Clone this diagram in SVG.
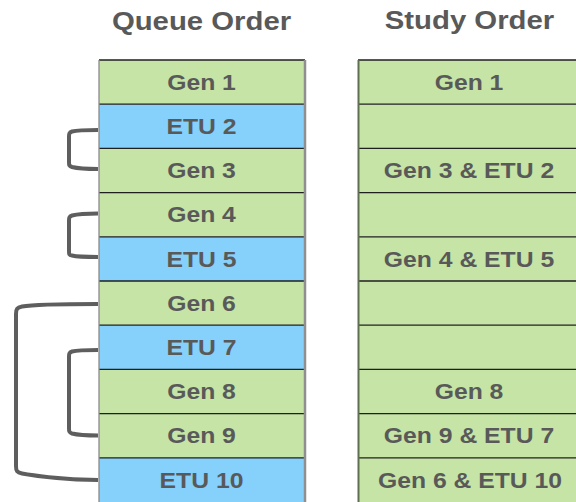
<svg xmlns="http://www.w3.org/2000/svg" width="576" height="502" viewBox="0 0 576 502">
<style>
.t{font-family:"Liberation Sans",Arial,sans-serif;font-weight:bold;font-size:21.5px;fill:#595959;text-anchor:middle}
.h{font-family:"Liberation Sans",Arial,sans-serif;font-weight:bold;font-size:25.5px;fill:#595959;text-anchor:middle}
.g{fill:#C5E4A6}
.b{fill:#86D0FC}
.sep{stroke:#1f1f1f;stroke-width:1.3}
.con{fill:none;stroke:#5E5E5E;stroke-width:4;stroke-linecap:butt;stroke-linejoin:round}
</style>
<rect width="576" height="502" fill="#ffffff"/>
<g id="titles">
<text class="h" transform="translate(201.5,30) scale(1.15 1)">Queue Order</text>
<text class="h" transform="translate(469.5,29) scale(1.15 1)">Study Order</text>
</g>
<g id="queue">
<g id="q1"><rect class="g" x="99" y="60" width="205" height="44.2"/><text class="t" transform="translate(201.5,89.7) scale(1.15 1)">Gen 1</text></g>
<g id="q2"><rect class="b" x="99" y="104.2" width="205" height="44.2"/><text class="t" transform="translate(201.5,133.9) scale(1.15 1)">ETU 2</text></g>
<g id="q3"><rect class="g" x="99" y="148.4" width="205" height="44.2"/><text class="t" transform="translate(201.5,178.1) scale(1.15 1)">Gen 3</text></g>
<g id="q4"><rect class="g" x="99" y="192.6" width="205" height="44.2"/><text class="t" transform="translate(201.5,222.3) scale(1.15 1)">Gen 4</text></g>
<g id="q5"><rect class="b" x="99" y="236.8" width="205" height="44.2"/><text class="t" transform="translate(201.5,266.5) scale(1.15 1)">ETU 5</text></g>
<g id="q6"><rect class="g" x="99" y="281" width="205" height="44.2"/><text class="t" transform="translate(201.5,310.7) scale(1.15 1)">Gen 6</text></g>
<g id="q7"><rect class="b" x="99" y="325.2" width="205" height="44.2"/><text class="t" transform="translate(201.5,354.9) scale(1.15 1)">ETU 7</text></g>
<g id="q8"><rect class="g" x="99" y="369.4" width="205" height="44.2"/><text class="t" transform="translate(201.5,399.1) scale(1.15 1)">Gen 8</text></g>
<g id="q9"><rect class="g" x="99" y="413.6" width="205" height="44.2"/><text class="t" transform="translate(201.5,443.3) scale(1.15 1)">Gen 9</text></g>
<g id="q10"><rect class="b" x="99" y="457.8" width="205" height="44.2"/><text class="t" transform="translate(201.5,487.5) scale(1.15 1)">ETU 10</text></g>
<g id="qlines">
<line class="sep" x1="99" y1="60" x2="305" y2="60"/>
<line class="sep" x1="99" y1="104.2" x2="305" y2="104.2"/>
<line class="sep" x1="99" y1="148.4" x2="305" y2="148.4"/>
<line class="sep" x1="99" y1="192.6" x2="305" y2="192.6"/>
<line class="sep" x1="99" y1="236.8" x2="305" y2="236.8"/>
<line class="sep" x1="99" y1="281" x2="305" y2="281"/>
<line class="sep" x1="99" y1="325.2" x2="305" y2="325.2"/>
<line class="sep" x1="99" y1="369.4" x2="305" y2="369.4"/>
<line class="sep" x1="99" y1="413.6" x2="305" y2="413.6"/>
<line class="sep" x1="99" y1="457.8" x2="305" y2="457.8"/>
<line x1="99" y1="60" x2="99" y2="502" stroke="#8a8a8a" stroke-width="1.3"/>
<line x1="305" y1="60" x2="305" y2="502" stroke="#8f8f8f" stroke-width="2.5"/>
</g>
</g>
<g id="study">
<g id="s1"><rect class="g" x="358" y="60" width="222" height="44.2"/><text class="t" transform="translate(469,89.7) scale(1.15 1)">Gen 1</text></g>
<g id="s2"><rect class="g" x="358" y="104.2" width="222" height="44.2"/></g>
<g id="s3"><rect class="g" x="358" y="148.4" width="222" height="44.2"/><text class="t" transform="translate(469,178.1) scale(1.15 1)">Gen 3 &amp; ETU 2</text></g>
<g id="s4"><rect class="g" x="358" y="192.6" width="222" height="44.2"/></g>
<g id="s5"><rect class="g" x="358" y="236.8" width="222" height="44.2"/><text class="t" transform="translate(469,266.5) scale(1.15 1)">Gen 4 &amp; ETU 5</text></g>
<g id="s6"><rect class="g" x="358" y="281" width="222" height="44.2"/></g>
<g id="s7"><rect class="g" x="358" y="325.2" width="222" height="44.2"/></g>
<g id="s8"><rect class="g" x="358" y="369.4" width="222" height="44.2"/><text class="t" transform="translate(469,399.1) scale(1.15 1)">Gen 8</text></g>
<g id="s9"><rect class="g" x="358" y="413.6" width="222" height="44.2"/><text class="t" transform="translate(469,443.3) scale(1.15 1)">Gen 9 &amp; ETU 7</text></g>
<g id="s10"><rect class="g" x="358" y="457.8" width="222" height="44.2"/><text class="t" transform="translate(470,487.5) scale(1.15 1)">Gen 6 &amp; ETU 10</text></g>
<g id="slines">
<line class="sep" x1="358" y1="60" x2="576" y2="60"/>
<line class="sep" x1="358" y1="104.2" x2="576" y2="104.2"/>
<line class="sep" x1="358" y1="148.4" x2="576" y2="148.4"/>
<line class="sep" x1="358" y1="192.6" x2="576" y2="192.6"/>
<line class="sep" x1="358" y1="236.8" x2="576" y2="236.8"/>
<line class="sep" x1="358" y1="281" x2="576" y2="281"/>
<line class="sep" x1="358" y1="325.2" x2="576" y2="325.2"/>
<line class="sep" x1="358" y1="369.4" x2="576" y2="369.4"/>
<line class="sep" x1="358" y1="413.6" x2="576" y2="413.6"/>
<line class="sep" x1="358" y1="457.8" x2="576" y2="457.8"/>
<line x1="358.5" y1="60" x2="358.5" y2="502" stroke="#5f6f52" stroke-width="2"/>
</g>
</g>
<g id="connectors">
<path class="con" d="M98,130 C85,130 76,130.5 72,131.5 C69,132.5 69,134 69,137 L69,162 C69,165 69,166 72,167 C76,168 85,169 98,169"/>
<path class="con" d="M98,213.5 C85,213.5 76,214.5 72,215.5 C69,216.5 69,218 69,221 L69,251 C69,254 69,255 72,255.5 C76,256.5 85,257 98,257"/>
<path class="con" d="M98,350 C85,350 76,350.5 72,351.5 C69,352.5 69,354 69,357 L69,428 C69,431 69,432.5 72,433.5 C76,434.5 85,435.5 98,435.5"/>
<path class="con" d="M98,304 C60,304 30,305 22,306.5 C17,307.5 16,309 16,314 L16,466 C16,471 17,472.5 22,473.5 C30,475 60,479.5 98,480"/>
</g>
</svg>
